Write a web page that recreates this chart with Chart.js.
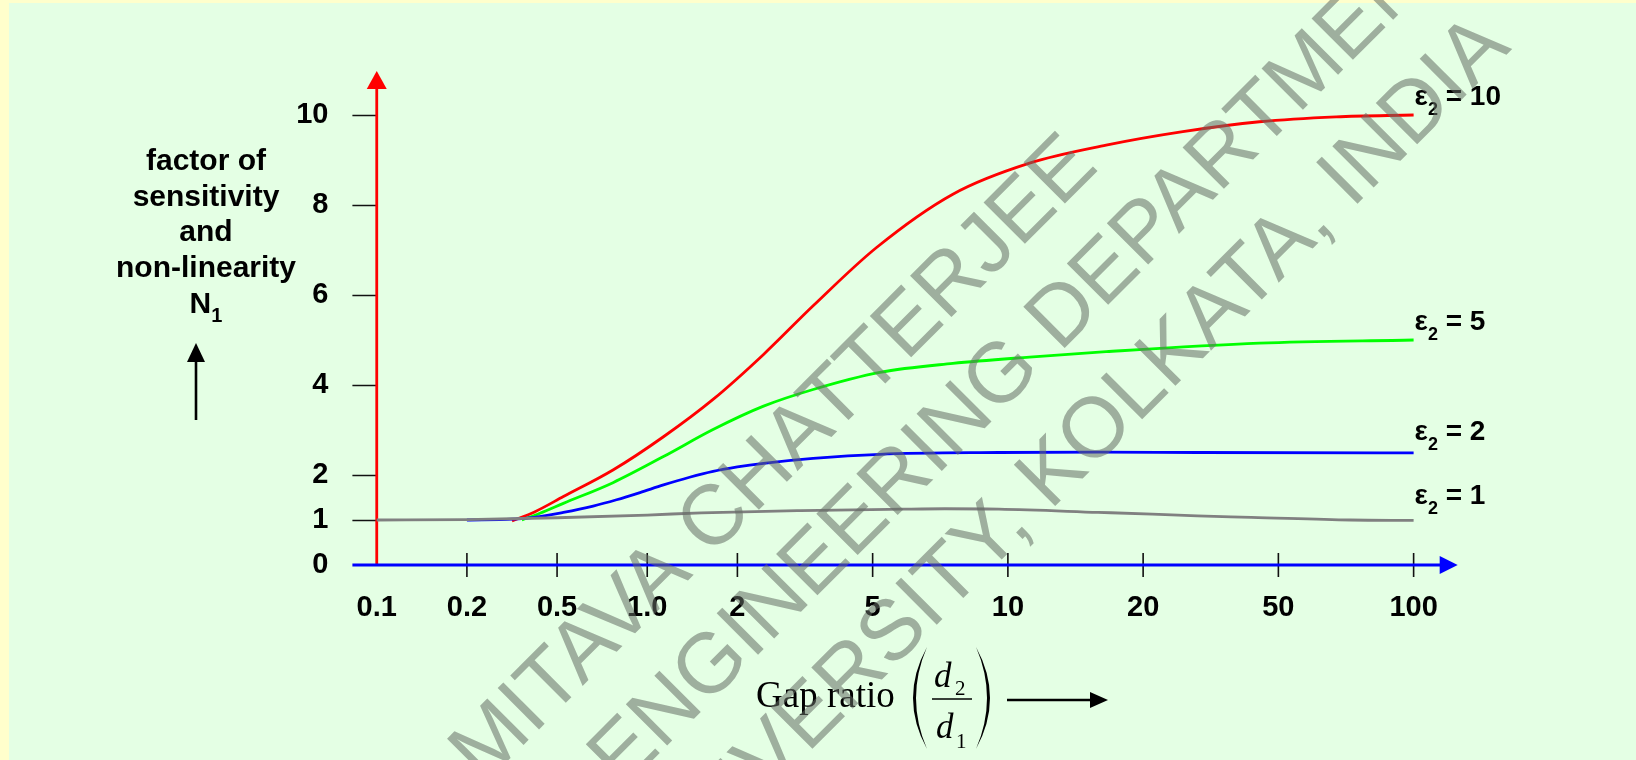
<!DOCTYPE html>
<html>
<head>
<meta charset="utf-8">
<script src="https://cdn.jsdelivr.net/npm/chart.js@4.4.1/dist/chart.umd.min.js"></script>
<style>
  html, body { margin: 0; padding: 0; background: #E4FFE4; }
  canvas { display: block; }
</style>
</head>
<body>
<canvas id="chart" width="1636" height="760"></canvas>
<script>
// Gap-ratio axis: 0.1 … 2 are one unit apart, 2 … 100 one and a half units apart
const gapTickLabels = ['0.1', '0.2', '0.5', '1.0', '2', '5', '10', '20', '50', '100'];
const gapTickPos    = [0, 1, 2, 3, 4, 5.5, 7, 8.5, 10, 11.5];
const nTickValues   = [0, 1, 2, 4, 6, 8, 10];

// Curves of N1 against gap position (x in axis units)
const eps1X  = [0, 1, 2, 3, 3.6, 4.7, 5.8, 6.3, 6.9, 8.0, 8.6, 9.1, 9.7, 10.8, 11.5];
const eps1Y  = [1.0, 1.01, 1.05, 1.11, 1.16, 1.21, 1.24, 1.25, 1.24, 1.17, 1.13, 1.09, 1.06, 1.0, 0.99];

const eps2X  = [1.0, 1.5, 1.75, 2.07, 2.4, 2.66, 2.92, 3.18, 3.47, 3.73, 4.0, 4.29, 4.84, 5.58, 6.9, 8.0, 9.1, 11.5];
const eps2Y  = [1.0, 1.02, 1.06, 1.17, 1.31, 1.45, 1.61, 1.78, 1.95, 2.08, 2.18, 2.26, 2.37, 2.46, 2.50, 2.51, 2.50, 2.49];

const eps5X  = [1.61, 1.81, 2.07, 2.62, 3.18, 3.73, 4.29, 4.84, 5.58, 6.39, 7.24, 8.09, 9.79, 11.5];
const eps5Y  = [1.0, 1.15, 1.37, 1.83, 2.41, 3.01, 3.53, 3.90, 4.28, 4.48, 4.62, 4.74, 4.93, 5.0];

const eps10X = [1.50, 1.75, 2.07, 2.62, 3.18, 3.73, 4.29, 4.84, 5.54, 6.39, 7.24, 8.09, 8.94, 9.79, 10.64, 11.5];
const eps10Y = [0.98, 1.18, 1.52, 2.11, 2.85, 3.68, 4.68, 5.76, 7.05, 8.24, 8.93, 9.33, 9.63, 9.85, 9.96, 10.0];

const epsValues = [1, 2, 5, 10];

const SANS = '"Liberation Sans", Arial, sans-serif';
const SERIF = '"Liberation Serif", "Times New Roman", serif';

function pts(xs, ys) { return xs.map((x, i) => ({ x: x, y: ys[i] })); }

function curve(xs, ys, color, eps, labelDy) {
  return {
    label: 'ε2 = ' + eps,
    eps: eps,
    labelDy: labelDy,
    data: pts(xs, ys),
    showLine: true,
    borderColor: color,
    borderWidth: 2.8,
    pointRadius: 0,
    cubicInterpolationMode: 'monotone',
    fill: false
  };
}

// Background, axes with arrows and tick marks
const framePlugin = {
  id: 'frame',
  beforeDraw(chart) {
    const c = chart.ctx;
    c.save();
    c.fillStyle = '#E4FFE4';
    c.fillRect(0, 0, chart.width, chart.height);
    c.fillStyle = '#FFFFCC';
    c.fillRect(0, 0, 9, chart.height);
    c.fillRect(0, 0, chart.width, 3);
    c.restore();
  },
  beforeDatasetsDraw(chart) {
    const c = chart.ctx;
    const xs = chart.scales.x, ys = chart.scales.y;
    const x0 = xs.getPixelForValue(0);
    const y0 = ys.getPixelForValue(0);
    c.save();
    // tick marks
    c.strokeStyle = '#111';
    c.lineWidth = 1.6;
    c.beginPath();
    nTickValues.forEach(v => {
      if (v === 0) return;
      const y = Math.round(ys.getPixelForValue(v)) + 0.5;
      c.moveTo(xs.left, y); c.lineTo(x0, y);
    });
    gapTickPos.forEach(v => {
      if (v === 0) return;
      const x = xs.getPixelForValue(v);
      c.moveTo(x, y0 - 12); c.lineTo(x, y0 + 12);
    });
    c.stroke();
    // vertical axis (red)
    const tipY = ys.top + 1;
    c.strokeStyle = '#FF0000';
    c.fillStyle = '#FF0000';
    c.lineWidth = 2.8;
    c.beginPath(); c.moveTo(x0, y0); c.lineTo(x0, tipY + 16); c.stroke();
    c.beginPath(); c.moveTo(x0, tipY); c.lineTo(x0 - 10, tipY + 18); c.lineTo(x0 + 10, tipY + 18); c.closePath(); c.fill();
    // horizontal axis (blue)
    const tipX = xs.right - 1;
    c.strokeStyle = '#0000FF';
    c.fillStyle = '#0000FF';
    c.lineWidth = 3;
    c.beginPath(); c.moveTo(xs.left, y0); c.lineTo(tipX - 16, y0); c.stroke();
    c.beginPath(); c.moveTo(tipX, y0); c.lineTo(tipX - 18, y0 - 9); c.lineTo(tipX - 18, y0 + 9); c.closePath(); c.fill();
    c.restore();
  }
};

// Curve names, axis captions and the diagonal watermark
const textPlugin = {
  id: 'texts',
  afterDatasetsDraw(chart) {
    const c = chart.ctx;
    c.save();
    c.fillStyle = '#000';
    c.textBaseline = 'alphabetic';
    c.textAlign = 'left';
    // curve names at the right-hand end of each curve
    chart.data.datasets.forEach((ds, i) => {
      const meta = chart.getDatasetMeta(i);
      const last = meta.data[meta.data.length - 1];
      const x = last.x + 1;
      const yb = last.y + ds.labelDy;
      c.font = 'bold 28px ' + SANS;
      c.fillText('ε', x, yb);
      const w1 = c.measureText('ε').width;
      c.font = 'bold 18px ' + SANS;
      c.fillText('2', x + w1, yb + 10);
      const w2 = c.measureText('2').width;
      c.font = 'bold 28px ' + SANS;
      c.fillText(' = ' + ds.eps, x + w1 + w2, yb);
    });

    // vertical caption
    c.textAlign = 'center';
    c.font = 'bold 30px ' + SANS;
    const capLines = ['factor of', 'sensitivity', 'and', 'non-linearity'];
    capLines.forEach((t, i) => c.fillText(t, 206, 170 + i * 35.5));
    c.textAlign = 'left';
    c.font = 'bold 30px ' + SANS;
    const wN = c.measureText('N').width;
    c.font = 'bold 20px ' + SANS;
    const w1s = c.measureText('1').width;
    const nx = 206 - (wN + w1s) / 2;
    c.font = 'bold 30px ' + SANS;
    c.fillText('N', nx, 313);
    c.font = 'bold 20px ' + SANS;
    c.fillText('1', nx + wN, 322);
    // up arrow
    c.strokeStyle = '#000';
    c.fillStyle = '#000';
    c.lineWidth = 2.6;
    c.beginPath(); c.moveTo(196, 420); c.lineTo(196, 360); c.stroke();
    c.beginPath(); c.moveTo(196, 343); c.lineTo(187, 362); c.lineTo(205, 362); c.closePath(); c.fill();

    // horizontal caption: Gap ratio (d2/d1) →
    c.font = '37px ' + SERIF;
    c.fillText('Gap ratio', 756, 707);
    c.font = 'italic 35px ' + SERIF;
    c.fillText('d', 934, 687);
    c.fillText('d', 936, 738);
    c.font = '21px ' + SERIF;
    c.fillText('2', 955, 695);
    c.fillText('1', 956, 748);
    c.lineWidth = 1.6;
    c.beginPath(); c.moveTo(932, 699); c.lineTo(972, 699); c.stroke();
    // parentheses
    c.beginPath();
    c.moveTo(927, 647); c.quadraticCurveTo(899, 698, 927, 749);
    c.quadraticCurveTo(905, 698, 927, 647); c.fill();
    c.beginPath();
    c.moveTo(976, 647); c.quadraticCurveTo(1004, 698, 976, 749);
    c.quadraticCurveTo(998, 698, 976, 647); c.fill();
    // right arrow
    c.lineWidth = 2.4;
    c.beginPath(); c.moveTo(1007, 700); c.lineTo(1092, 700); c.stroke();
    c.beginPath(); c.moveTo(1108, 700); c.lineTo(1090, 692); c.lineTo(1090, 708); c.closePath(); c.fill();
    c.restore();
  },
  afterDraw(chart) {
    const c = chart.ctx;
    const r = Math.SQRT1_2;
    // u runs along the text, v is the baseline offset across it (45° diagonal)
    const lines = [
      { text: 'AMITAVA CHATTERJEE', u: -270, v: 897 },
      { text: 'ENGINEERING DEPARTMENT', u: -119, v: 999 },
      { text: 'UNIVERSITY, KOLKATA, INDIA', u: -165, v: 1104 }
    ];
    c.save();
    c.fillStyle = 'rgba(100,110,100,0.55)';
    c.font = '85px ' + SANS;
    c.textAlign = 'left';
    c.textBaseline = 'alphabetic';
    lines.forEach(l => {
      const x = (l.u + l.v) * r;
      const y = (l.v - l.u) * r;
      c.save();
      c.translate(x, y);
      c.rotate(-Math.PI / 4);
      c.fillText(l.text, 0, 0);
      c.restore();
    });
    c.restore();
  }
};

const tickFont = { family: SANS, size: 29, weight: 'bold' };

new Chart(document.getElementById('chart'), {
  type: 'scatter',
  data: {
    datasets: [
      curve(eps1X, eps1Y, '#808080', epsValues[0], -16),
      curve(eps2X, eps2Y, '#0000FF', epsValues[1], -13),
      curve(eps5X, eps5Y, '#00FF00', epsValues[2], -10),
      curve(eps10X, eps10Y, '#FF0000', epsValues[3], -10)
    ]
  },
  options: {
    responsive: false,
    animation: false,
    events: [],
    layout: { padding: { left: 0, top: 70, right: 177.3, bottom: 0 } },
    plugins: { legend: { display: false }, tooltip: { enabled: false } },
    scales: {
      x: {
        type: 'linear',
        min: -0.27,
        max: 12,
        afterBuildTicks: s => { s.ticks = gapTickPos.map(v => ({ value: v })); },
        afterFit: s => { s.height = 195; },
        grid: { display: false, drawTicks: false },
        border: { display: false },
        ticks: {
          autoSkip: false,
          maxRotation: 0,
          padding: 26,
          color: '#000',
          font: tickFont,
          callback: v => gapTickLabels[gapTickPos.indexOf(v)]
        }
      },
      y: {
        type: 'linear',
        min: 0,
        max: 11,
        afterBuildTicks: s => { s.ticks = nTickValues.map(v => ({ value: v })); },
        afterFit: s => { s.width = 352.4; },
        grid: { display: false, drawTicks: false },
        border: { display: false },
        ticks: {
          padding: 24,
          color: '#000',
          font: tickFont,
          callback: v => String(v)
        }
      }
    }
  },
  plugins: [framePlugin, textPlugin]
});
</script>
</body>
</html>
